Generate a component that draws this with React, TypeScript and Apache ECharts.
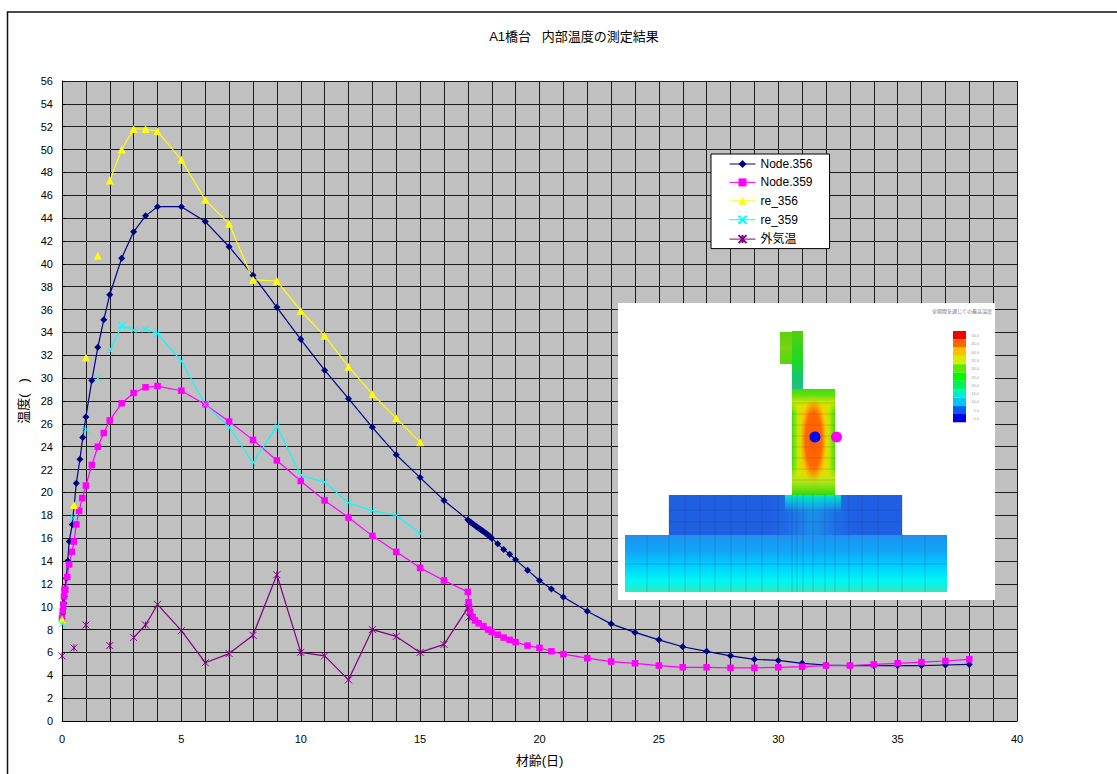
import React, { useEffect, useRef } from "react";
import * as echarts from "echarts";

const FONT = '"Liberation Sans", "Noto Sans CJK JP", sans-serif';

const titleText = "A1橋台   内部温度の測定結果";
const xAxisTitle = "材齢(日)";
const yAxisTitle = "温度(   )";
const seriesNames = ["Node.356", "Node.359", "re_356", "re_359", "外気温"];

const node356Days = [0, 0.03, 0.05, 0.08, 0.1, 0.13, 0.18, 0.24, 0.3, 0.43, 0.6, 0.75, 0.87, 1, 1.25, 1.5, 1.75, 2, 2.5, 3, 3.5, 4, 5, 6, 7, 8, 9, 10, 11, 12, 13, 14, 15, 16, 17, 17.07, 17.14, 17.2, 17.27, 17.34, 17.4, 17.47, 17.54, 17.6, 17.67, 17.74, 17.8, 17.87, 17.94, 18, 18.25, 18.5, 18.75, 19, 19.5, 20, 20.5, 21, 22, 23, 24, 25, 26, 27, 28, 29, 30, 31, 32, 33, 34, 35, 36, 37, 38];
const node356Temps = [9, 9.4, 9.8, 10.3, 10.9, 11.6, 12.5, 14, 15.7, 17.2, 20.8, 22.9, 24.8, 26.6, 29.8, 32.7, 35.1, 37.3, 40.5, 42.8, 44.2, 45, 45, 43.7, 41.5, 39, 36.2, 33.4, 30.7, 28.2, 25.7, 23.3, 21.3, 19.3, 17.6, 17.45, 17.35, 17.25, 17.15, 17.05, 16.95, 16.85, 16.75, 16.65, 16.55, 16.45, 16.35, 16.25, 16.1, 16, 15.5, 15, 14.6, 14.1, 13.2, 12.3, 11.55, 10.85, 9.6, 8.5, 7.75, 7.1, 6.5, 6.1, 5.7, 5.4, 5.3, 5.05, 4.9, 4.85, 4.85, 4.85, 4.85, 4.9, 4.95];

const node359Days = [0, 0.03, 0.05, 0.08, 0.1, 0.14, 0.22, 0.3, 0.42, 0.5, 0.6, 0.72, 0.85, 1, 1.25, 1.5, 1.75, 2, 2.5, 3, 3.5, 4, 5, 6, 7, 8, 9, 10, 11, 12, 13, 14, 15, 16, 17, 17.03, 17.05, 17.1, 17.2, 17.3, 17.45, 17.65, 17.85, 18, 18.25, 18.5, 18.75, 19, 19.5, 20, 20.5, 21, 22, 23, 24, 25, 26, 27, 28, 29, 30, 31, 32, 33, 34, 35, 36, 37, 38];
const node359Temps = [9, 9.6, 10.2, 10.9, 11.5, 11.5, 12.6, 13.7, 14.8, 15.7, 17.2, 18.4, 19.5, 20.6, 22.4, 24, 25.2, 26.3, 27.8, 28.7, 29.2, 29.3, 28.9, 27.7, 26.2, 24.6, 22.8, 21, 19.3, 17.8, 16.2, 14.8, 13.4, 12.3, 11.3, 10.4, 10, 9.55, 9.1, 8.8, 8.55, 8.3, 8, 7.8, 7.55, 7.3, 7.1, 6.9, 6.6, 6.4, 6.1, 5.85, 5.5, 5.2, 5.05, 4.85, 4.7, 4.7, 4.65, 4.65, 4.7, 4.75, 4.85, 4.85, 4.95, 5.05, 5.15, 5.25, 5.4];

const re356Days = [0, 0.25, 0.5, 0.75, 1, 1.25, 1.5, 1.75, 2, 2.5, 3, 3.5, 4, 5, 6, 7, 8, 9, 10, 11, 12, 13, 14, 15];
const re356Temps = [8.9, null, 18.9, null, 31.8, null, 40.7, null, 47.3, 50, 51.8, 51.8, 51.6, 49.1, 45.6, 43.5, 38.6, 38.5, 35.9, 33.7, 31, 28.6, 26.5, 24.4];

const re359Days = [0, 0.25, 0.5, 0.75, 1, 1.25, 1.5, 1.75, 2, 2.5, 3, 3.5, 4, 5, 6, 7, 8, 9, 10, 11, 12, 13, 14, 15];
const re359Temps = [8.5, null, 17.8, null, 25.5, null, 30, null, 32.4, 34.6, 34.2, 34.3, 33.9, 31.5, 27.7, 25.7, 22.6, 25.8, 21.5, 20.9, 19.1, 18.4, 18, 16.4];

const airDays = [0, 0.25, 0.5, 0.75, 1, 1.5, 2, 2.5, 3, 3.5, 4, 5, 6, 7, 8, 9, 10, 11, 12, 13, 14, 15, 16, 17, 17.05];
const airTemps = [5.7, null, 6.4, null, 8.4, null, 6.6, null, 7.3, 8.4, 10.2, 7.9, 5.1, 5.9, 7.5, 12.8, 6, 5.7, 3.6, 8, 7.4, 6, 6.7, 9.9, 9.1];

const insetTitle = "全期間を通じての最高温度";
const scaleLabels = ["50.0", "45.0", "40.0", "35.0", "30.0", "25.0", "20.0", "15.0", "10.0", "5.0", "0.0"];
const scaleColors = ["#f50000", "#ff6400", "#ffc000", "#d4f000", "#60e800", "#00f800", "#00f060", "#00f0c4", "#00c4ff", "#0060f0", "#0000e0"];

const zip = (xs: number[], ys: (number | null)[]) => xs.map((x, i) => [x, ys[i]]);

const X_MARK = "path://M0 0L10 10M10 0L0 10";
const STAR_MARK = "path://M0 0L10 10M10 0L0 10M5 0L5 10";

function buildInset() {
  const G = echarts.graphic;
  const vert = (stops: [number, string][]) =>
    new G.LinearGradient(0, 0, 0, 1, stops.map(([offset, color]) => ({ offset, color })));
  const horiz = (stops: [number, string][]) =>
    new G.LinearGradient(0, 0, 1, 0, stops.map(([offset, color]) => ({ offset, color })));
  const radial = (stops: [number, string][], r = 0.5) =>
    new G.RadialGradient(0.5, 0.5, r, stops.map(([offset, color]) => ({ offset, color })));

  const out: any[] = [];
  out.push({ type: "rect", shape: { x: 618, y: 303, width: 377, height: 297 }, style: { fill: "#ffffff" } });
  // bottom slab
  out.push({
    type: "rect",
    shape: { x: 625, y: 535, width: 322, height: 57 },
    style: { fill: vert([[0, "#1f8ff0"], [0.3, "#10a8f8"], [0.55, "#00d0ff"], [0.8, "#00f6f4"], [1, "#30e8c0"]]) },
  });
  // upper footing
  out.push({
    type: "rect",
    shape: { x: 669, y: 495, width: 233, height: 40 },
    style: { fill: "#1f5fe4" },
  });
  out.push({
    type: "rect",
    shape: { x: 770, y: 495, width: 86, height: 40 },
    style: {
      fill: horiz([[0, "rgba(30,120,240,0)"], [0.35, "rgba(30,150,240,0.55)"], [0.5, "rgba(20,170,240,0.65)"], [0.65, "rgba(30,150,240,0.55)"], [1, "rgba(30,120,240,0)"]]),
    },
  });
  out.push({
    type: "rect",
    shape: { x: 785, y: 495, width: 56, height: 18 },
    style: { fill: vert([[0, "rgba(0,240,190,0.95)"], [1, "rgba(0,220,240,0)"]]) },
  });
  // stem and parapet
  out.push({ type: "rect", shape: { x: 780, y: 332, width: 12, height: 32 }, style: { fill: vert([[0, "#60d010"], [0.5, "#78d414"], [1, "#50d810"]]) } });
  out.push({ type: "rect", shape: { x: 792, y: 331, width: 11, height: 58 }, style: { fill: vert([[0, "#50d010"], [0.5, "#20d820"], [0.8, "#10c870"], [1, "#20c080"]]) } });
  // wall
  out.push({
    type: "rect",
    shape: { x: 792, y: 389, width: 43, height: 106 },
    style: { fill: horiz([[0, "#40dc10"], [0.14, "#c8e800"], [0.3, "#ffc800"], [0.5, "#ff9000"], [0.7, "#ffc800"], [0.86, "#c8e800"], [1, "#40dc10"]]) },
  });
  out.push({
    type: "rect",
    shape: { x: 792, y: 389, width: 43, height: 24 },
    style: { fill: vert([[0, "#40dc10"], [0.25, "#60e010"], [0.55, "rgba(200,232,10,0.9)"], [1, "rgba(230,230,0,0)"]]) },
  });
  out.push({
    type: "rect",
    shape: { x: 792, y: 465, width: 43, height: 30 },
    style: { fill: vert([[0, "rgba(230,230,0,0)"], [0.5, "rgba(190,232,20,0.95)"], [1, "#30d810"]]) },
  });
  out.push({
    type: "ellipse",
    shape: { cx: 813.5, cy: 440, rx: 13, ry: 42 },
    style: { fill: radial([[0, "#ff5a00"], [0.65, "#ff6a00"], [1, "rgba(255,150,0,0)"]]) },
  });
  // mesh
  const meshColor = "rgba(40,60,90,0.22)";
  [647, 669, 685, 700, 715, 731, 746, 762, 778, 792, 797, 803, 813, 825, 835, 849, 862, 878, 902, 925].forEach((x) =>
    out.push({ type: "line", shape: { x1: x, y1: x < 669 || x > 902 ? 535 : 495, x2: x, y2: 592 }, style: { stroke: meshColor, lineWidth: 1 } })
  );
  [403, 414, 425, 436, 447, 458, 469, 480].forEach((y) =>
    out.push({ type: "line", shape: { x1: 792, y1: y, x2: 835, y2: y }, style: { stroke: "rgba(120,80,20,0.25)", lineWidth: 1 } })
  );
  [564, 510, 522].forEach((y, i) =>
    out.push({ type: "line", shape: { x1: i === 0 ? 625 : 669, y1: y, x2: i === 0 ? 947 : 902, y2: y }, style: { stroke: meshColor, lineWidth: 1 } })
  );
  // sensors
  out.push({ type: "circle", shape: { cx: 815, cy: 437, r: 5.5 }, style: { fill: "#0000ff" } });
  out.push({ type: "circle", shape: { cx: 836.5, cy: 437, r: 5.5 }, style: { fill: "#ff00ff" } });
  // colour scale
  scaleColors.forEach((c, i) => {
    out.push({ type: "rect", shape: { x: 953, y: 331 + i * 8.3, width: 13, height: 8.3 }, style: { fill: c } });
    out.push({
      type: "text",
      x: 979,
      y: 335.5 + i * 8.3,
      style: { text: scaleLabels[i], fill: "#9a9a9a", font: `4px ${FONT}`, align: "right", verticalAlign: "middle" },
    });
  });
  out.push({
    type: "text",
    x: 992,
    y: 311,
    style: { text: insetTitle, fill: "#777777", font: `5px ${FONT}`, align: "right", verticalAlign: "middle" },
  });
  // outer frame: its right and bottom sides lie beyond the page
  out.push({
    type: "rect",
    shape: { x: 7.5, y: 12, width: 1130, height: 790 },
    style: { fill: "none", stroke: "#111111", lineWidth: 1.5 },
  });
  return out.map((el) => ({ ...el, z: 60 }));
}

export default function App() {
  const ref = useRef<HTMLDivElement>(null);
  useEffect(() => {
    if (!ref.current) return;
    const chart = echarts.init(ref.current, undefined, { renderer: "svg" });
    const base = { type: "line", showAllSymbol: true, connectNulls: false, z: 3 };
    const gridLine = { show: true, lineStyle: { color: "#1c1c1c", width: 1, type: "solid" } };
    chart.setOption({
      animation: false,
      backgroundColor: "#ffffff",
      textStyle: { fontFamily: FONT },
      title: {
        text: titleText,
        left: 569,
        top: 25,
        textAlign: "center",
        textStyle: { fontSize: 13, fontWeight: "normal", color: "#000", fontFamily: FONT },
      },
      grid: {
        left: 62,
        right: 100,
        top: 81,
        bottom: 53,
        show: true,
        backgroundColor: "#c0c0c0",
        borderWidth: 0,
        containLabel: false,
      },
      xAxis: {
        type: "value",
        min: 0,
        max: 40,
        interval: 5,
        name: xAxisTitle,
        nameLocation: "middle",
        nameGap: 33,
        nameTextStyle: { fontSize: 13, color: "#000", fontFamily: FONT },
        axisLine: { show: true, onZero: false, lineStyle: { color: "#000", width: 1 } },
        axisTick: { show: false },
        minorTick: { show: false, splitNumber: 5 },
        axisLabel: { fontSize: 11, color: "#000", margin: 12, fontFamily: FONT },
        splitLine: gridLine,
        minorSplitLine: { show: true, lineStyle: { color: "#1c1c1c", width: 1 } },
      },
      yAxis: {
        type: "value",
        min: 0,
        max: 56,
        interval: 2,
        name: yAxisTitle,
        nameLocation: "middle",
        nameRotate: 90,
        nameGap: 30,
        nameTextStyle: { fontSize: 13, color: "#000", fontFamily: FONT },
        axisLine: { show: true, onZero: false, lineStyle: { color: "#000", width: 1 } },
        axisTick: { show: true, inside: true, length: 3, lineStyle: { color: "#000" } },
        axisLabel: { fontSize: 11, color: "#000", margin: 9, fontFamily: FONT },
        splitLine: gridLine,
      },
      legend: {
        orient: "vertical",
        left: 711,
        top: 154,
        padding: [4, 17, 3, 18],
        itemWidth: 26,
        itemHeight: 10,
        itemGap: 6.4,
        backgroundColor: "#ffffff",
        borderColor: "#000000",
        borderWidth: 1,
        borderRadius: 0,
        lineStyle: { width: 1 },
        textStyle: { fontSize: 12, lineHeight: 12, color: "#000", fontFamily: FONT },
        data: seriesNames,
      },
      series: [
        {
          ...base,
          name: seriesNames[0],
          data: zip(node356Days, node356Temps),
          symbol: "diamond",
          symbolSize: 7,
          lineStyle: { color: "#000080", width: 1.2 },
          itemStyle: { color: "#000080" },
        },
        {
          ...base,
          name: seriesNames[1],
          data: zip(node359Days, node359Temps),
          symbol: "rect",
          symbolSize: 6.5,
          lineStyle: { color: "#ff00ff", width: 1.2 },
          itemStyle: { color: "#ff00ff" },
        },
        {
          ...base,
          name: seriesNames[2],
          data: zip(re356Days, re356Temps),
          symbol: "triangle",
          symbolSize: 8,
          lineStyle: { color: "#ffff00", width: 1.2 },
          itemStyle: { color: "#ffff00" },
        },
        {
          ...base,
          name: seriesNames[3],
          data: zip(re359Days, re359Temps),
          symbol: X_MARK,
          symbolSize: 7,
          lineStyle: { color: "#00ffff", width: 1.2 },
          itemStyle: { color: "none", borderColor: "#00ffff", borderWidth: 1 },
        },
        {
          ...base,
          name: seriesNames[4],
          data: zip(airDays, airTemps),
          symbol: STAR_MARK,
          symbolSize: 7,
          lineStyle: { color: "#800080", width: 1.2 },
          itemStyle: { color: "none", borderColor: "#800080", borderWidth: 1 },
        },
      ],
      graphic: { elements: buildInset() },
    });
    return () => chart.dispose();
  }, []);
  return (
    <div
      ref={ref}
      style={{ position: "absolute", left: 0, top: 0, width: 1117, height: 774, overflow: "hidden" }}
    />
  );
}
